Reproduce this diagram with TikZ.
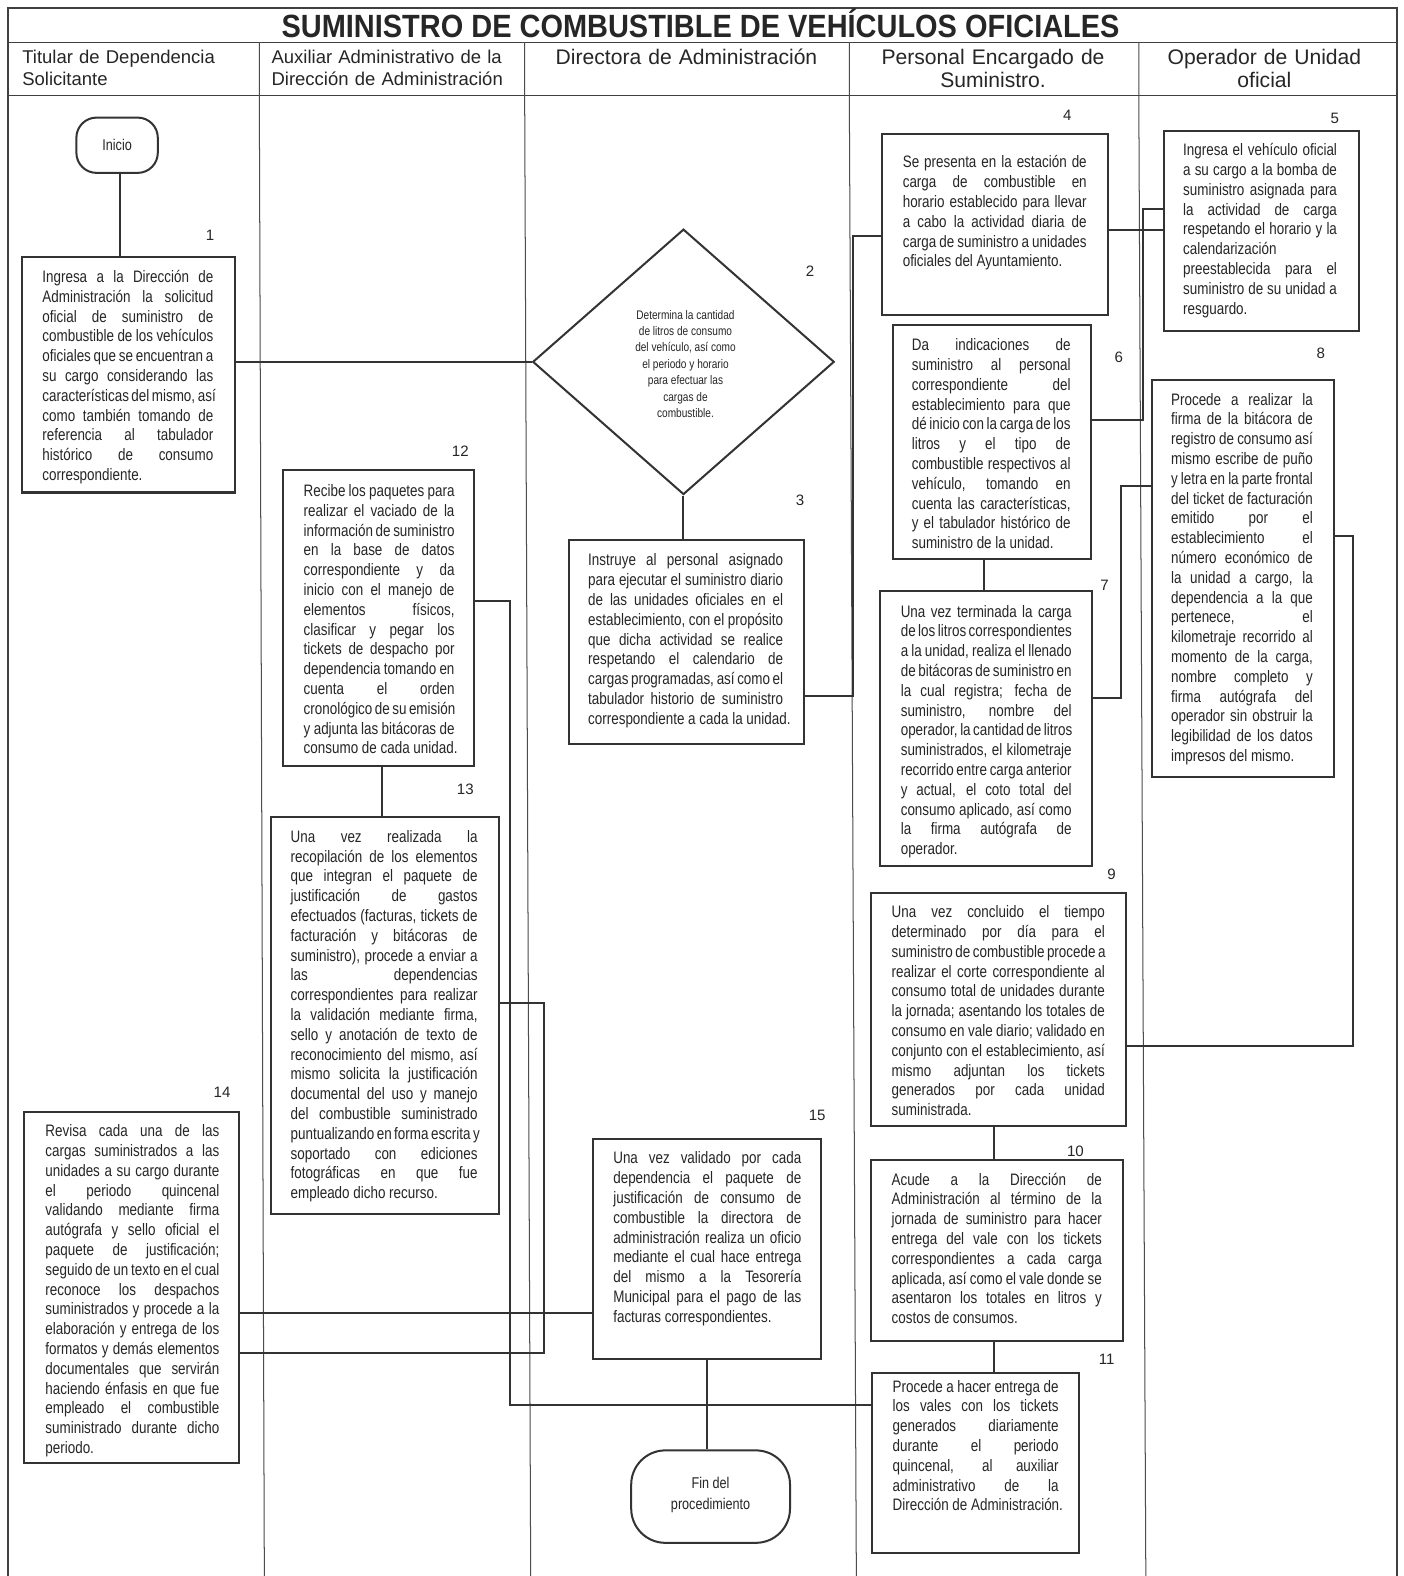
\documentclass[tikz,border=0pt]{standalone}
\usepackage{fontspec}
\setmainfont{Liberation Sans}
\newfontfamily\narrowf[FakeStretch=0.81]{Liberation Sans}
\newfontfamily\titlef[FakeStretch=0.9]{Liberation Sans}
\usetikzlibrary{shapes.geometric,fit}
\newcommand\jl[1]{\hbox to\hsize{#1}}
\newcommand\fl[1]{\hbox{#1}}
\newcommand\tblock[2]{\vtop{\hsize=#1pt\relax#2}}
\hbadness=10000
\begin{document}
\begin{tikzpicture}[x=1pt,y=-1pt,
  frame/.style={line width=1.3pt, draw=black!75},
  lane/.style={line width=1pt, draw=black!70},
  box/.style={draw=black!80, line width=2pt, inner sep=0pt},
  conn/.style={draw=black!80, line width=2pt},
  txt/.style={inner sep=0pt, anchor=base west, font=\narrowf\fontsize{16.5}{19.7}\selectfont, text=black!85},
  num/.style={inner sep=0pt, font=\fontsize{15}{18}\selectfont, text=black!85},
  head/.style={inner sep=0pt, font=\fontsize{18.4}{22}\selectfont, text=black!85},
  headc/.style={inner sep=0pt, font=\fontsize{21}{23}\selectfont, text=black!85},
  term/.style={draw=black!80, line width=2pt, inner sep=0pt}
]
\useasboundingbox (0,0) rectangle (1396,1568);
\fill[white] (0,0) rectangle (1396,1568);
% frame
\draw[frame] (8,1568) -- (8,8) -- (1390,8) -- (1390,1568);
\draw[frame] (8,42) -- (1390,42);
\draw[frame] (8,95) -- (1390,95);
\draw[lane] (258,42) -- (258,95) -- (263,1568);
\draw[lane] (522,42) -- (522,95) -- (528,1568);
\draw[lane] (845,42) -- (845,95) -- (852,1568);
\draw[lane] (1133,42) -- (1133,95) -- (1140,1568);
% title and headers
\node[inner sep=0pt, anchor=base, font=\titlef\bfseries\fontsize{32}{36}\selectfont, text=black!85] (title) at (697,37) {SUMINISTRO DE COMBUSTIBLE DE VEHÍCULOS OFICIALES};
\node[head, anchor=base west, text width=235pt, align=left] (h1) at (22,63) {Titular de Dependencia\\Solicitante};
\node[head, anchor=base west, text width=250pt, align=left] (h2) at (270,63) {Auxiliar Administrativo de la\\Dirección de Administración};
\node[headc, anchor=base, text width=300pt, align=center] (h3) at (683,64) {Directora de Administración};
\node[headc, anchor=base, text width=280pt, align=center] (h4) at (988,64) {Personal Encargado de\\Suministro.};
\node[headc, anchor=base, text width=270pt, align=center] (h5) at (1258,64) {Operador de Unidad\\oficial};
% terminals and decision
\node[term, rounded corners=20pt, minimum width=81pt, minimum height=55pt] (ini) at (116.5,144.5) {};
\node[inner sep=0pt, font=\narrowf\fontsize{15.5}{19}\selectfont, text=black!85] (tini) at (116.5,144) {Inicio};
\node[term, rounded corners=34pt, minimum width=158pt, minimum height=92pt] (fin) at (707,1489) {};
\node[inner sep=0pt, align=center, font=\narrowf\fontsize{15.5}{21}\selectfont, text=black!85] (tfin) at (707,1487) {Fin del\\procedimiento};
\node[draw=black!80, line width=2pt, diamond, minimum width=300pt, minimum height=264pt, inner sep=0pt] (d2) at (680,360) {};
\node[inner sep=0pt, align=center, font=\narrowf\fontsize{12.4}{16.3}\selectfont, text=black!85] (t2) at (682,362) {Determina la cantidad\\de litros de consumo\\del vehículo, así como\\el periodo y horario\\para efectuar las\\cargas de\\combustible.};
% boxes
\node[box, fit={(22,256) (234,490)}] (b1) {};
\node[box, fit={(566,537) (800,740)}] (b3) {};
\node[box, fit={(878,133) (1102,313)}] (b4) {};
\node[box, fit={(1158,130) (1352,329)}] (b5) {};
\node[box, fit={(888,323) (1085,556)}] (b6) {};
\node[box, fit={(876,588) (1086,862)}] (b7) {};
\node[box, fit={(1146,378) (1327,773)}] (b8) {};
\node[box, fit={(867,888) (1120,1120)}] (b9) {};
\node[box, fit={(867,1154) (1117,1334)}] (b10) {};
\node[box, fit={(868,1366) (1074,1545)}] (b11) {};
\node[box, fit={(282,468) (472,762)}] (b12) {};
\node[box, fit={(270,813) (496,1208)}] (b13) {};
\node[box, fit={(24,1106) (238,1456)}] (b14) {};
\node[box, fit={(590,1133) (817,1352)}] (b15) {};
% numbers
\node[num] (n1) at (209,234) {1};
\node[num] (n2) at (806,270) {2};
\node[num] (n3) at (796,498) {3};
\node[num] (n4) at (1062,115) {4};
\node[num] (n5) at (1328,118) {5};
\node[num] (n6) at (1113,355) {6};
\node[num] (n7) at (1099,582) {7};
\node[num] (n8) at (1314,352) {8};
\node[num] (n9) at (1106,870) {9};
\node[num] (n10) at (1070,1145) {10};
\node[num] (n11) at (1101,1352) {11};
\node[num] (n12) at (458,449) {12};
\node[num] (n13) at (463,785) {13};
\node[num] (n14) at (221,1087) {14};
\node[num] (n15) at (813,1110) {15};
% texts
\node[txt] (t1) at (42,281) {\tblock{170}{%
\jl{Ingresa a la Dirección de}
\jl{Administración la solicitud}
\jl{oficial de suministro de}
\jl{combustible de los vehículos}
\jl{oficiales que se encuentran a}
\jl{su cargo considerando las}
\jl{características del mismo, así}
\jl{como también tomando de}
\jl{referencia al tabulador}
\jl{histórico de consumo}
\fl{correspondiente.}}};
\node[txt] (t3) at (585,563) {\tblock{194}{%
\jl{Instruye al personal asignado}
\jl{para ejecutar el suministro diario}
\jl{de las unidades oficiales en el}
\jl{establecimiento, con el propósito}
\jl{que dicha actividad se realice}
\jl{respetando el calendario de}
\jl{cargas programadas, así como el}
\jl{tabulador historio de suministro}
\fl{correspondiente a cada la unidad.}}};
\node[txt] (t4) at (898,167) {\tblock{183}{%
\jl{Se presenta en la estación de}
\jl{carga de combustible en}
\jl{horario establecido para llevar}
\jl{a cabo la actividad diaria de}
\jl{carga de suministro a unidades}
\fl{oficiales del Ayuntamiento.}}};
\node[txt] (t5) at (1177,155) {\tblock{153}{%
\jl{Ingresa el vehículo oficial}
\jl{a su cargo a la bomba de}
\jl{suministro asignada para}
\jl{la actividad de carga}
\jl{respetando el horario y la}
\fl{calendarización}
\jl{preestablecida para el}
\jl{suministro de su unidad a}
\fl{resguardo.}}};
\node[txt] (t6) at (907,349) {\tblock{158}{%
\jl{Da indicaciones de}
\jl{suministro al personal}
\jl{correspondiente del}
\jl{establecimiento para que}
\jl{dé inicio con la carga de los}
\jl{litros y el tipo de}
\jl{combustible respectivos al}
\jl{vehículo, tomando en}
\jl{cuenta las características,}
\jl{y el tabulador histórico de}
\fl{suministro de la unidad.}}};
\node[txt] (t7) at (896,614) {\tblock{170}{%
\jl{Una vez terminada la carga}
\jl{de los litros correspondientes}
\jl{a la unidad, realiza el llenado}
\jl{de bitácoras de suministro en}
\jl{la cual registra; fecha de}
\jl{suministro, nombre del}
\jl{operador, la cantidad de litros}
\jl{suministrados, el kilometraje}
\jl{recorrido entre carga anterior}
\jl{y actual, el coto total del}
\jl{consumo aplicado, así como}
\jl{la firma autógrafa de}
\fl{operador.}}};
\node[txt] (t8) at (1165,403) {\tblock{141}{%
\jl{Procede a realizar la}
\jl{firma de la bitácora de}
\jl{registro de consumo así}
\jl{mismo escribe de puño}
\jl{y letra en la parte frontal}
\jl{del ticket de facturación}
\jl{emitido por el}
\jl{establecimiento el}
\jl{número económico de}
\jl{la unidad a cargo, la}
\jl{dependencia a la que}
\jl{pertenece, el}
\jl{kilometraje recorrido al}
\jl{momento de la carga,}
\jl{nombre completo y}
\jl{firma autógrafa del}
\jl{operador sin obstruir la}
\jl{legibilidad de los datos}
\fl{impresos del mismo.}}};
\node[txt] (t9) at (887,913) {\tblock{212}{%
\jl{Una vez concluido el tiempo}
\jl{determinado por día para el}
\jl{suministro de combustible procede a}
\jl{realizar el corte correspondiente al}
\jl{consumo total de unidades durante}
\jl{la jornada; asentando los totales de}
\jl{consumo en vale diario; validado en}
\jl{conjunto con el establecimiento, así}
\jl{mismo adjuntan los tickets}
\jl{generados por cada unidad}
\fl{suministrada.}}};
\node[txt] (t10) at (887,1179) {\tblock{209}{%
\jl{Acude a la Dirección de}
\jl{Administración al término de la}
\jl{jornada de suministro para hacer}
\jl{entrega del vale con los tickets}
\jl{correspondientes a cada carga}
\jl{aplicada, así como el vale donde se}
\jl{asentaron los totales en litros y}
\fl{costos de consumos.}}};
\node[txt] (t11) at (888,1385) {\tblock{165}{%
\jl{Procede a hacer entrega de}
\jl{los vales con los tickets}
\jl{generados diariamente}
\jl{durante el periodo}
\jl{quincenal, al auxiliar}
\jl{administrativo de la}
\fl{Dirección de Administración.}}};
\node[txt] (t12) at (302,494) {\tblock{150}{%
\jl{Recibe los paquetes para}
\jl{realizar el vaciado de la}
\jl{información de suministro}
\jl{en la base de datos}
\jl{correspondiente y da}
\jl{inicio con el manejo de}
\jl{elementos físicos,}
\jl{clasificar y pegar los}
\jl{tickets de despacho por}
\jl{dependencia tomando en}
\jl{cuenta el orden}
\jl{cronológico de su emisión}
\jl{y adjunta las bitácoras de}
\fl{consumo de cada unidad.}}};
\node[txt] (t13) at (289,838) {\tblock{186}{%
\jl{Una vez realizada la}
\jl{recopilación de los elementos}
\jl{que integran el paquete de}
\jl{justificación de gastos}
\jl{efectuados (facturas, tickets de}
\jl{facturación y bitácoras de}
\jl{suministro), procede a enviar a}
\jl{las dependencias}
\jl{correspondientes para realizar}
\jl{la validación mediante firma,}
\jl{sello y anotación de texto de}
\jl{reconocimiento del mismo, así}
\jl{mismo solicita la justificación}
\jl{documental del uso y manejo}
\jl{del combustible suministrado}
\jl{puntualizando en forma escrita y}
\jl{soportado con ediciones}
\jl{fotográficas en que fue}
\fl{empleado dicho recurso.}}};
\node[txt] (t14) at (45,1131) {\tblock{173}{%
\jl{Revisa cada una de las}
\jl{cargas suministrados a las}
\jl{unidades a su cargo durante}
\jl{el periodo quincenal}
\jl{validando mediante firma}
\jl{autógrafa y sello oficial el}
\jl{paquete de justificación;}
\jl{seguido de un texto en el cual}
\jl{reconoce los despachos}
\jl{suministrados y procede a la}
\jl{elaboración y entrega de los}
\jl{formatos y demás elementos}
\jl{documentales que servirán}
\jl{haciendo énfasis en que fue}
\jl{empleado el combustible}
\jl{suministrado durante dicho}
\fl{periodo.}}};
\node[txt] (t15) at (610,1158) {\tblock{187}{%
\jl{Una vez validado por cada}
\jl{dependencia el paquete de}
\jl{justificación de consumo de}
\jl{combustible la directora de}
\jl{administración realiza un oficio}
\jl{mediante el cual hace entrega}
\jl{del mismo a la Tesorería}
\jl{Municipal para el pago de las}
\fl{facturas correspondientes.}}};
% bend coordinates
\coordinate (k1) at (119,200);
\coordinate (k4a) at (849,692);
\coordinate (k4b) at (849,235);
\coordinate (k5) at (1130,229);
\coordinate (k6a) at (1137,208);
\coordinate (k6b) at (1137,418);
\coordinate (k7) at (979,570);
\coordinate (k8a) at (1115,694);
\coordinate (k8b) at (1115,484);
\coordinate (k9a) at (1346,533);
\coordinate (k9b) at (1346,1041);
\coordinate (k10) at (989,1140);
\coordinate (k12a) at (507,1398);
\coordinate (k12b) at (507,598);
\coordinate (k13a) at (541,998);
\coordinate (k13b) at (541,1346);
\coordinate (k14) at (380,790);
\coordinate (k15) at (400,1306);
\coordinate (k16) at (703,1400);
% connectors
\draw[conn] (ini.south -| k1) -- (b1.north -| k1);
\draw[conn] (b1.east |- d2.west) -- (d2.west);
\draw[conn] (d2.south) -- (d2.south |- b3.north);
\draw[conn] (b3.east |- k4a) -- (k4a) -- (k4b) -- (b4.west |- k4b);
\draw[conn] (b4.east |- k5) -- (b5.west |- k5);
\draw[conn] (b5.west |- k6a) -- (k6a) -- (k6b) -- (b6.east |- k6b);
\draw[conn] (b6.south -| k7) -- (b7.north -| k7);
\draw[conn] (b7.east |- k8a) -- (k8a) -- (k8b) -- (b8.west |- k8b);
\draw[conn] (b8.east |- k9a) -- (k9a) -- (k9b) -- (b9.east |- k9b);
\draw[conn] (b9.south -| k10) -- (b10.north -| k10);
\draw[conn] (b10.south -| k10) -- (b11.north -| k10);
\draw[conn] (b11.west |- k12a) -- (k12a) -- (k12b) -- (b12.east |- k12b);
\draw[conn] (b12.south -| k14) -- (b13.north -| k14);
\draw[conn] (b13.east |- k13a) -- (k13a) -- (k13b) -- (b14.east |- k13b);
\draw[conn] (b14.east |- k15) -- (b15.west |- k15);
\draw[conn] (b15.south -| k16) -- (fin.north -| k16);
\end{tikzpicture}
\end{document}
